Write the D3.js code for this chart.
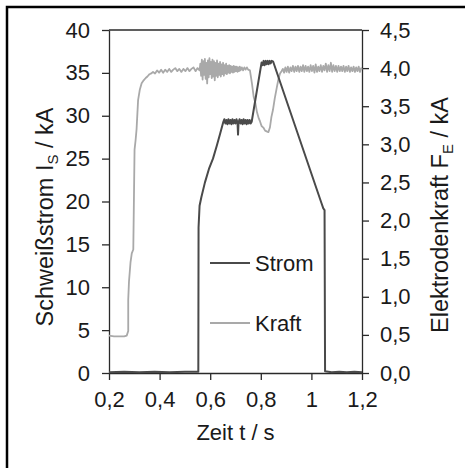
<!DOCTYPE html>
<html><head><meta charset="utf-8">
<script src="https://cdn.jsdelivr.net/npm/d3@7/dist/d3.min.js"></script>
<style>body{margin:0;background:#fff}svg{display:block}text{font-family:"Liberation Sans",Arial,sans-serif;fill:#1a1a1a}</style>
</head><body><svg id="c" width="465" height="468"></svg>
<script>
const xTicks = [0.2, 0.4, 0.6, 0.8, 1.0, 1.2];
const yLeftTicks = [0, 5, 10, 15, 20, 25, 30, 35, 40];
const yRightTicks = [0, 0.5, 1.0, 1.5, 2.0, 2.5, 3.0, 3.5, 4.0, 4.5];
const seriesNames = ["Strom", "Kraft"];
// Schweißstrom in kA (left axis)
const strom = [
[0.200,0.10],[0.260,0.15],[0.320,0.10],[0.380,0.15],[0.440,0.10],[0.500,0.15],[0.553,0.15],
[0.554,17.0],[0.558,19.5],[0.565,20.5],[0.579,22.2],[0.595,23.8],[0.611,25.0],[0.626,26.5],[0.640,28.0],[0.652,29.3],
[0.656,29.6],[0.660,29.1],[0.664,29.5],[0.668,29.0],[0.672,29.6],[0.676,29.1],[0.680,29.5],[0.684,29.0],[0.688,29.6],
[0.692,29.1],[0.696,29.5],[0.700,29.1],[0.704,29.6],[0.708,29.2],[0.710,27.8],[0.712,29.2],[0.716,29.6],[0.720,29.1],
[0.724,29.5],[0.728,29.0],[0.732,29.6],[0.736,29.1],[0.740,29.5],[0.744,29.0],[0.748,29.5],[0.752,29.1],[0.756,29.5],
[0.760,29.1],[0.764,29.3],[0.803,36.2],[0.807,35.9],[0.811,36.4],[0.815,35.9],[0.819,36.4],[0.823,36.0],[0.827,36.4],
[0.831,36.0],[0.835,36.4],[0.839,36.1],[0.843,36.4],[0.849,36.3],[1.040,19.8],[1.047,19.2],[1.052,19.0],[1.054,0.20],
[1.080,0.10],[1.110,0.15],[1.140,0.10],[1.170,0.15],[1.200,0.10]
];
// Elektrodenkraft (right axis)
const kraft = [
[0.200,0.49],[0.220,0.48],[0.240,0.48],[0.260,0.48],[0.270,0.49],[0.276,0.55],[0.276,0.96],[0.279,1.20],[0.285,1.45],
[0.290,1.57],[0.296,1.62],[0.301,2.93],[0.305,3.05],[0.309,3.20],[0.315,3.58],[0.322,3.72],[0.329,3.80],[0.337,3.84],
[0.345,3.87],[0.352,3.89],[0.360,3.92],[0.367,3.93],[0.374,3.95],[0.382,3.93],[0.390,3.97],[0.398,3.94],[0.406,3.98],
[0.414,3.94],[0.422,3.98],[0.430,3.95],[0.438,3.99],[0.446,3.95],[0.454,3.98],[0.462,4.00],[0.470,3.96],[0.478,3.99],
[0.486,3.95],[0.494,3.99],[0.502,3.96],[0.510,4.00],[0.518,3.96],[0.526,3.99],[0.534,4.01],[0.542,3.96],[0.550,4.00],
[0.558,3.97],[0.561,4.06],[0.564,3.90],[0.567,4.11],[0.570,3.85],[0.573,4.09],[0.576,3.91],[0.579,4.12],[0.582,3.86],
[0.585,4.07],[0.588,3.80],[0.591,4.10],[0.594,3.88],[0.597,4.13],[0.600,3.92],[0.603,4.08],[0.606,3.87],[0.609,4.11],
[0.612,3.89],[0.615,4.09],[0.618,3.84],[0.621,4.07],[0.624,3.90],[0.627,4.10],[0.630,3.88],[0.633,4.06],[0.636,3.91],
[0.639,4.08],[0.642,3.89],[0.645,4.05],[0.648,3.92],[0.651,4.07],[0.654,3.90],[0.657,4.04],[0.660,3.93],[0.663,4.06],
[0.666,3.92],[0.669,4.03],[0.672,3.94],[0.675,4.04],[0.678,3.93],[0.681,4.03],[0.684,3.95],[0.687,4.02],[0.690,3.94],
[0.693,4.03],[0.696,3.95],[0.699,4.02],[0.702,3.96],[0.705,4.02],[0.708,3.95],[0.711,4.01],[0.714,3.96],[0.717,4.02],
[0.720,3.97],[0.725,4.01],[0.730,3.97],[0.735,4.01],[0.740,3.98],[0.745,4.01],[0.750,3.98],[0.757,3.97],[0.765,3.80],
[0.772,3.62],[0.778,3.55],[0.785,3.42],[0.792,3.34],[0.797,3.30],[0.803,3.24],[0.810,3.22],[0.817,3.18],[0.823,3.17],
[0.830,3.16],[0.836,3.22],[0.842,3.36],[0.848,3.45],[0.855,3.60],[0.863,3.74],[0.870,3.86],[0.876,3.93],[0.882,3.96],
[0.887,3.99],[0.892,3.94],[0.897,4.01],[0.902,3.95],[0.907,4.02],[0.912,3.94],[0.917,4.01],[0.922,3.96],[0.927,4.03],
[0.932,3.95],[0.937,4.02],[0.942,3.96],[0.947,4.03],[0.952,3.95],[0.957,4.02],[0.962,3.96],[0.967,4.04],[0.972,3.95],
[0.977,4.03],[0.982,3.96],[0.987,4.02],[0.992,3.95],[0.997,4.04],[1.002,3.96],[1.007,4.03],[1.012,3.94],[1.017,4.05],
[1.022,3.95],[1.027,4.02],[1.032,3.96],[1.037,4.04],[1.042,3.95],[1.047,4.03],[1.052,3.97],[1.057,4.06],[1.062,3.95],
[1.067,4.04],[1.072,3.96],[1.077,4.07],[1.082,3.95],[1.087,4.04],[1.092,3.96],[1.097,4.03],[1.102,3.95],[1.107,4.03],
[1.112,3.96],[1.117,4.02],[1.122,3.96],[1.127,4.03],[1.132,3.95],[1.137,4.02],[1.142,3.96],[1.147,4.03],[1.152,3.95],
[1.157,4.01],[1.162,3.96],[1.167,4.02],[1.172,3.95],[1.177,4.01],[1.182,3.96],[1.187,4.02],[1.192,3.95],[1.197,4.00],
[1.200,3.98]
];

const svg = d3.select("#c");
const L = 109, R = 362, T = 30, B = 373;
const FS = 22;
const stromColor = "#4a4a4a", kraftColor = "#a9a9a9", axisColor = "#2a2a2a";

// outer frame (only top & left visible)
svg.append("rect").attr("x",7).attr("y",7).attr("width",600).attr("height",600)
  .attr("fill","none").attr("stroke","#000").attr("stroke-width",2.5);

const x = d3.scaleLinear().domain([0.2,1.2]).range([L,R]);
const yL = d3.scaleLinear().domain([0,40]).range([B,T]);
const yR = d3.scaleLinear().domain([0,4.5]).range([B,T]);

const fmt = d => d3.format("~g")(d).replace(".", ",");
const fmtR = d => d3.format(".1f")(d).replace(".", ",");

// plot top border
svg.append("line").attr("x1",L).attr("x2",R).attr("y1",T).attr("y2",T)
  .attr("stroke",axisColor).attr("stroke-width",1.3);

function styleAxis(g){
  g.select(".domain").attr("stroke",axisColor).attr("stroke-width",1.3);
  g.selectAll(".tick line").attr("stroke",axisColor).attr("stroke-width",1.3);
  g.selectAll(".tick text").attr("font-size",FS).attr("font-family","Liberation Sans, Arial, sans-serif").attr("fill","#1a1a1a");
}

const gx = svg.append("g").attr("transform",`translate(0,${B})`)
  .call(d3.axisBottom(x).tickValues(xTicks).tickFormat(fmt).tickSize(7).tickSizeOuter(0).tickPadding(11));
styleAxis(gx);
const gl = svg.append("g").attr("transform",`translate(${L},0)`)
  .call(d3.axisLeft(yL).tickValues(yLeftTicks).tickFormat(d3.format("d")).tickSize(7).tickSizeOuter(0).tickPadding(12));
styleAxis(gl);
const gr = svg.append("g").attr("transform",`translate(${R},0)`)
  .call(d3.axisRight(yR).tickValues(yRightTicks).tickFormat(fmtR).tickSize(7).tickSizeOuter(0).tickPadding(11));
styleAxis(gr);

const lineL = d3.line().x(d=>x(d[0])).y(d=>yL(d[1]));
const lineR = d3.line().x(d=>x(d[0])).y(d=>yR(d[1]));

svg.append("path").datum(kraft).attr("d",lineR).attr("fill","none")
  .attr("stroke",kraftColor).attr("stroke-width",1.8).attr("stroke-linejoin","round");
svg.append("path").datum(strom).attr("d",lineL).attr("fill","none")
  .attr("stroke",stromColor).attr("stroke-width",2).attr("stroke-linejoin","round");

// legend
const leg = [{name:seriesNames[0], c:stromColor, y:263}, {name:seriesNames[1], c:kraftColor, y:323}];
leg.forEach(l=>{
  svg.append("line").attr("x1",210).attr("x2",250).attr("y1",l.y).attr("y2",l.y)
    .attr("stroke",l.c).attr("stroke-width",2);
  svg.append("text").attr("x",255).attr("y",l.y).attr("dy","0.35em").attr("font-size",FS).text(l.name);
});

// axis titles
svg.append("text").attr("x",(L+R)/2).attr("y",440).attr("text-anchor","middle").attr("font-size",FS).text("Zeit t / s");

const tl = svg.append("text").attr("transform","translate(53,217) rotate(-90)").attr("text-anchor","middle").attr("font-size",23.5);
tl.append("tspan").text("Schweißstrom I");
tl.append("tspan").attr("font-size",15).attr("dy",5).text("S");
tl.append("tspan").attr("dy",-5).text(" / kA");

const tr = svg.append("text").attr("transform","translate(448,215) rotate(-90)").attr("text-anchor","middle").attr("font-size",23.5);
tr.append("tspan").text("Elektrodenkraft F");
tr.append("tspan").attr("font-size",15).attr("dy",5).text("E");
tr.append("tspan").attr("dy",-5).text(" / kA");
</script></body></html>
